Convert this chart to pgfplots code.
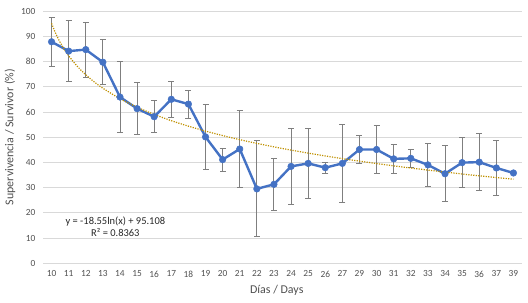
\documentclass[border=0pt]{standalone}
\usepackage{pgfplots}
\pgfplotsset{compat=1.18}
\usepackage{pgfplotstable}
\usepackage{fontspec}
\setmainfont{Carlito}
\definecolor{blu}{HTML}{4472C4}
\definecolor{gridgray}{HTML}{D9D9D9}
\definecolor{txtgray}{HTML}{505050}
\definecolor{errgray}{HTML}{7F7F7F}
\definecolor{trend}{HTML}{BF9000}
\pgfplotstableread{
x y e
1 87.8 9.7
2 84.1 12.2
3 84.7 10.9
4 79.7 9.0
5 65.9 14.1
6 61.3 10.3
7 58.1 6.4
8 65.0 7.2
9 63.1 5.5
10 50.1 12.9
11 41.1 4.5
12 45.3 15.3
13 29.5 19.0
14 31.3 10.2
15 38.4 15.0
16 39.6 14.0
17 37.9 2.1
18 39.6 15.6
19 45.1 5.5
20 45.1 9.4
21 41.4 5.9
22 41.6 3.6
23 39.0 8.4
24 35.5 11.1
25 39.9 10.0
26 40.1 11.2
27 37.8 10.9
28 35.8 0
}\survival
\pgfplotstableread{
x y
1 95.11
1.25 90.97
1.5 87.59
1.75 84.73
2 82.25
2.5 78.11
3 74.73
3.5 71.87
4 69.39
5 65.25
6 61.87
7 59.01
8 56.53
9 54.35
10 52.40
11 50.63
12 49.01
13 47.53
14 46.15
15 44.87
16 43.68
17 42.55
18 41.49
19 40.49
20 39.54
21 38.63
22 37.77
23 36.94
24 36.15
25 35.40
26 34.67
27 33.97
28 33.30
}\trendtab
\begin{document}
\begin{tikzpicture}
\begin{axis}[
  scale only axis,
  width=479bp, height=252.3bp,
  xmin=0.5, xmax=28.5, ymin=0, ymax=100,
  xtick={1,...,28},
  xticklabels={10,11,12,13,14,15,16,17,18,19,20,21,22,23,24,25,26,27,29,30,31,32,33,34,35,36,37,39},
  ytick={0,10,...,100},
  ymajorgrids,
  grid style={color=gridgray, line width=0.8bp},
  axis line style={draw=none},
  major tick length=0pt,
  tick label style={font=\fontsize{9.4}{10}\selectfont, text=txtgray},
  /pgf/number format/assume math mode=true,
  yticklabel style={xshift=-4bp},
  xticklabel style={yshift=-4bp},
  xlabel={Días / Days},
  ylabel={Supervivencia / Survivor (\%)},
  label style={font=\fontsize{12}{13}\selectfont, text=txtgray},
  xlabel style={at={(axis description cs:0.488,-0.108)}, anchor=center},
  ylabel style={at={(axis description cs:-0.069,0.5)}, anchor=center},
  clip=false,
]
\addplot[draw=none, mark=none, forget plot,
  error bars/.cd, y dir=both, y explicit,
  error bar style={color=errgray, line width=0.9bp},
  error mark options={rotate=90, mark size=3bp, line width=0.9bp, color=errgray}]
  table[x=x, y=y, y error=e] {\survival};
\addplot[color=blu, line width=2.4bp, mark=*, mark size=3.3bp,
  mark options={fill=blu, draw=blu, line width=0.5bp}]
  table[x=x, y=y] {\survival};
\addplot[color=trend, line width=1.2bp, dash pattern=on 1.2bp off 1.3bp, smooth, mark=none]
  table[x=x, y=y] {\trendtab};
\node[align=center, font=\fontsize{10.5}{12.3}\selectfont, text=black!85] at (axis cs:4.73,14.5)
  {y = -18.55ln(x) + 95.108\\R² = 0.8363};
\end{axis}
\pgfresetboundingbox
\path ([xshift=-43bp,yshift=-39.7bp]current axis.south west) rectangle ([xshift=6bp,yshift=11bp]current axis.north east);
\end{tikzpicture}
\end{document}
